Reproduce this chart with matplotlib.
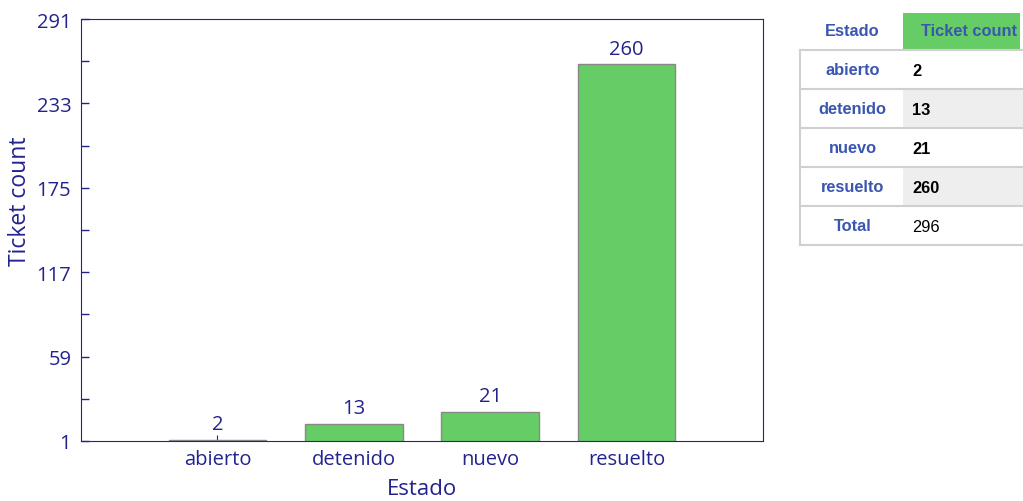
import matplotlib.pyplot as plt
from matplotlib.patches import Rectangle

estados = ['abierto', 'detenido', 'nuevo', 'resuelto']
tickets = [2, 13, 21, 260]
y_ticks = [1, 59, 117, 175, 233, 291]
total_label = 'Total'
total_value = sum(tickets)

NAVY = '#23238e'
GREEN = '#66cc66'
HEAD_BLUE = '#3a56b0'

plt.rcParams['font.family'] = ['Open Sans', 'DejaVu Sans']

fig = plt.figure(figsize=(10.23, 5.02), dpi=100)
ax = fig.add_axes([81 / 1023, 60 / 502, 682 / 1023, 422 / 502])
ax.set_axisbelow(True)

x = list(range(len(estados)))
ax.bar(x, tickets, width=0.715, bottom=0, color=GREEN, edgecolor='#888888',
       linewidth=1)
for xi, v in zip(x, tickets):
    ax.annotate(str(v), (xi, v), xytext=(0, 4), textcoords='offset points',
                ha='center', va='bottom', fontsize=14.5, color=NAVY)

ax.set_xlim(-1, 4)
ax.set_ylim(y_ticks[0], y_ticks[-1])
ax.set_yticks(y_ticks)
ax.set_yticks([(a + b) / 2 for a, b in zip(y_ticks[:-1], y_ticks[1:])], minor=True)
ax.set_xticks(x)
ax.set_xticklabels(estados)
ax.tick_params(axis='both', which='both', colors=NAVY, labelsize=14.5, direction='in')
ax.tick_params(axis='y', which='both', length=6, width=1, pad=7)
ax.tick_params(axis='x', length=4, pad=6)
for s in ax.spines.values():
    s.set_color(NAVY)
ax.set_xlabel('Estado', fontsize=16, color=NAVY, labelpad=6)
ax.set_ylabel('Ticket count', fontsize=16.5, color=NAVY)
ax.yaxis.set_label_coords(-0.072, 0.57)

# table on the right
tab = fig.add_axes([0, 0, 1, 1], zorder=2)
tab.set_xlim(0, 1023)
tab.set_ylim(502, 0)
tab.axis('off')

c0, c1, c2 = 800, 903, 1030
head_top, head_h, row_h = 14, 37, 39
fs = 11.8
tab.add_patch(Rectangle((c1, head_top), 117, head_h, facecolor=GREEN, edgecolor='none'))
tab.text((c0 + c1) / 2 + 1, head_top + 18, 'Estado', ha='center', va='center',
         fontsize=fs, color=HEAD_BLUE, family='Liberation Sans', weight='bold')
tab.text(c1 + 66, head_top + 18, 'Ticket count', ha='center', va='center',
         fontsize=fs, color=HEAD_BLUE, family='Liberation Sans', weight='bold')

rows = list(zip(estados, [str(v) for v in tickets])) + [(total_label, str(total_value))]
for i, (name, val) in enumerate(rows):
    y0 = head_top + head_h + i * row_h
    bg = '#eeeeee' if i % 2 == 1 else 'white'
    tab.add_patch(Rectangle((c1, y0), c2 - c1, row_h, facecolor=bg, edgecolor='none'))
    tab.plot([c0, c2], [y0, y0], color='#d0d0d0', lw=1.5)
    tab.text((c0 + c1) / 2 + 1, y0 + row_h / 2, name, ha='center', va='center',
             fontsize=fs, color=HEAD_BLUE, family='Liberation Sans', weight='bold')
    tab.text(c1 + 9, y0 + row_h / 2 + 1, val, ha='left', va='center', fontsize=fs,
             color='black', family='Liberation Sans',
             weight='normal' if name == total_label else 'bold')
y_end = head_top + head_h + len(rows) * row_h
tab.plot([c0, c2], [y_end, y_end], color='#d0d0d0', lw=1.5)
tab.plot([c0, c0], [head_top + head_h, y_end], color='#d0d0d0', lw=1.5)

fig.savefig('out.png', dpi=100)
